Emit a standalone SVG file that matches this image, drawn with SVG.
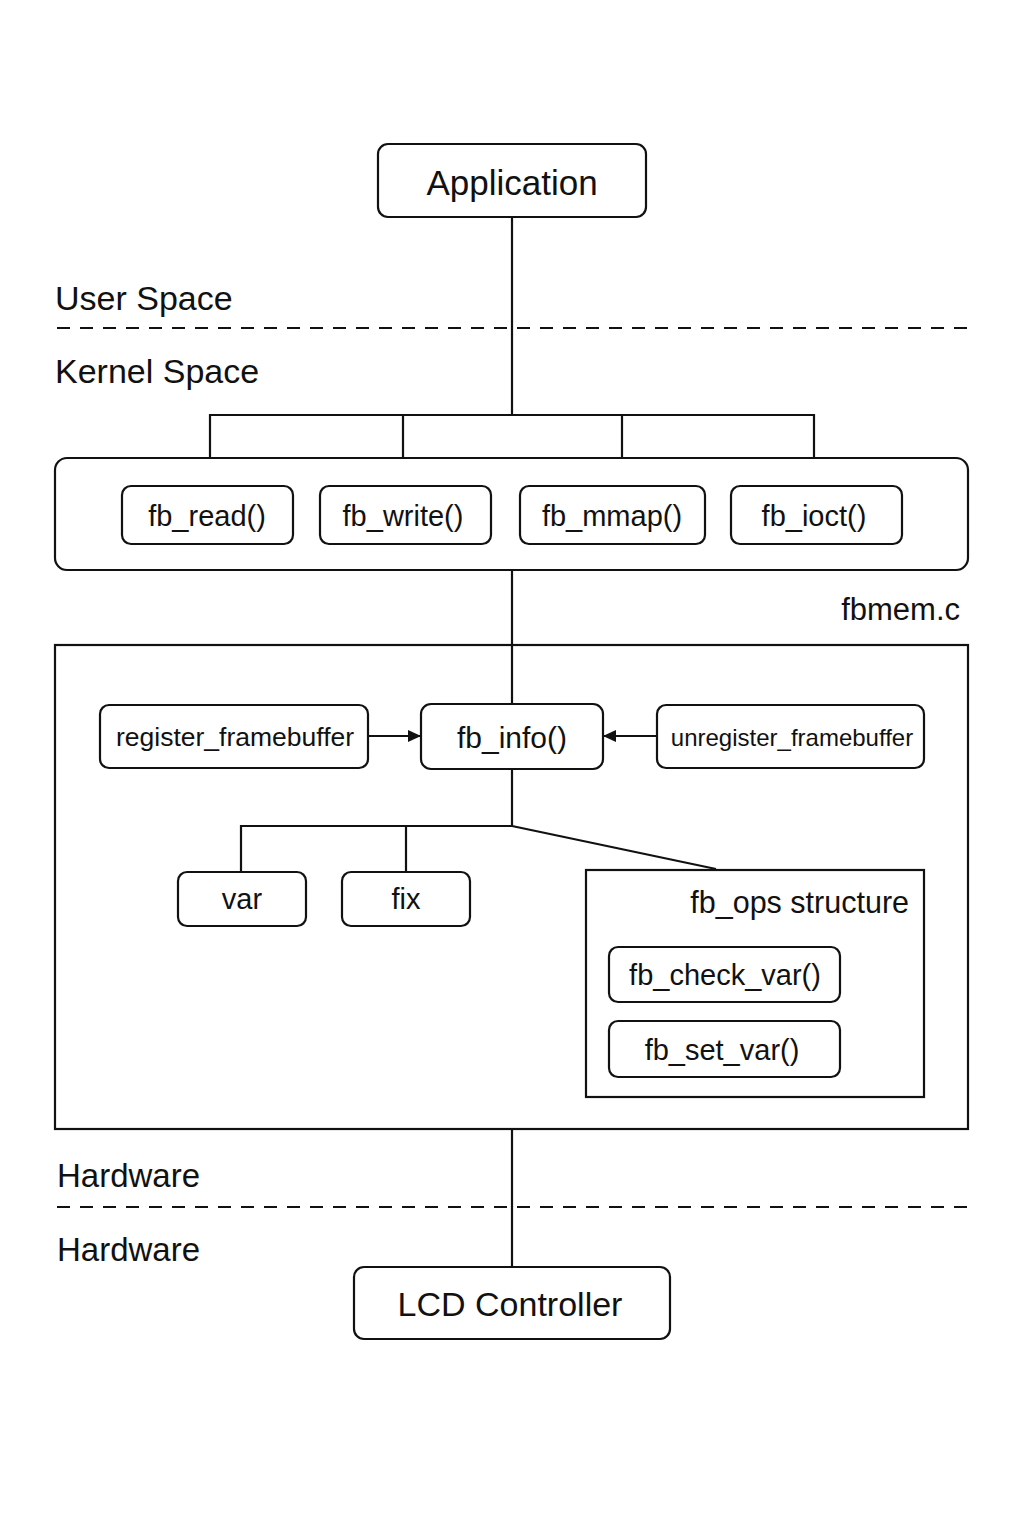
<svg xmlns="http://www.w3.org/2000/svg" width="1024" height="1536" viewBox="0 0 1024 1536">
<style>
.n{fill:#fff;stroke:#111;stroke-width:2.2}
.b{fill:none;stroke:#111;stroke-width:2.2}
.t{font-family:"Liberation Sans",Arial,sans-serif;fill:#111;text-anchor:middle;dominant-baseline:central}
.l{font-family:"Liberation Sans",Arial,sans-serif;fill:#111}
.c{fill:none;stroke:#111;stroke-width:2.2}
.d{fill:none;stroke:#111;stroke-width:2.2;stroke-dasharray:13 10}
</style>
<defs>
<marker id="ah" markerWidth="14" markerHeight="14" refX="13" refY="7" orient="auto" markerUnits="userSpaceOnUse" viewBox="0 0 14 14">
<path d="M0,1 L13,7 L0,13 z" fill="#111"/>
</marker>
</defs>
<rect width="1024" height="1536" fill="#fff"/>
<g id="labels">
<text class="l" x="55" y="310" font-size="34">User Space</text>
<text class="l" x="55" y="383" font-size="34">Kernel Space</text>
<text class="l" x="960" y="620" font-size="31" text-anchor="end">fbmem.c</text>
<text class="l" x="57" y="1187" font-size="33">Hardware</text>
<text class="l" x="57" y="1261" font-size="33">Hardware</text>
</g>
<g id="separators">
<line class="d" x1="57" y1="328" x2="970" y2="328"/>
<line class="d" x1="57" y1="1207" x2="970" y2="1207"/>
</g>
<g id="fileops"><rect class="b" x="55" y="458" width="913" height="112" rx="12"/></g>
<g id="fbmem"><rect class="b" x="55" y="645" width="913" height="484"/></g>
<g id="fb_ops"><rect class="b" x="586" y="870" width="338" height="227"/><text class="l" x="909" y="913" font-size="30.5" text-anchor="end">fb_ops structure</text></g>
<g id="connectors">
<line class="c" x1="512" y1="217" x2="512" y2="415"/>
<polyline class="c" points="210,458 210,415 814,415 814,458"/>
<line class="c" x1="403" y1="415" x2="403" y2="458"/>
<line class="c" x1="622" y1="415" x2="622" y2="458"/>
<line class="c" x1="512" y1="570" x2="512" y2="704"/>
<line class="c" x1="368" y1="736" x2="421" y2="736" marker-end="url(#ah)"/>
<line class="c" x1="657" y1="736" x2="603" y2="736" marker-end="url(#ah)"/>
<line class="c" x1="512" y1="769" x2="512" y2="826"/>
<polyline class="c" points="241,872 241,826 512,826"/>
<line class="c" x1="406" y1="826" x2="406" y2="872"/>
<line class="c" x1="512" y1="826" x2="716" y2="869"/>
<line class="c" x1="512" y1="1129" x2="512" y2="1267"/>
</g>
<g id="application"><rect class="n" x="378" y="144" width="268" height="73" rx="10"/><text class="t" x="512" y="182" font-size="35">Application</text></g>
<g id="fb_read"><rect class="n" x="122" y="486" width="171" height="58" rx="9"/><text class="t" x="207" y="516" font-size="29">fb_read()</text></g>
<g id="fb_write"><rect class="n" x="320" y="486" width="171" height="58" rx="9"/><text class="t" x="403" y="516" font-size="29">fb_write()</text></g>
<g id="fb_mmap"><rect class="n" x="520" y="486" width="185" height="58" rx="9"/><text class="t" x="612" y="516" font-size="29">fb_mmap()</text></g>
<g id="fb_ioct"><rect class="n" x="731" y="486" width="171" height="58" rx="9"/><text class="t" x="814" y="516" font-size="29">fb_ioct()</text></g>
<g id="register_framebuffer"><rect class="n" x="100" y="705" width="268" height="63" rx="9"/><text class="t" x="235" y="737" font-size="26.5">register_framebuffer</text></g>
<g id="fb_info"><rect class="n" x="421" y="704" width="182" height="65" rx="10"/><text class="t" x="512" y="737" font-size="30">fb_info()</text></g>
<g id="unregister_framebuffer"><rect class="n" x="657" y="705" width="267" height="63" rx="9"/><text class="t" x="792" y="737" font-size="24">unregister_framebuffer</text></g>
<g id="var"><rect class="n" x="178" y="872" width="128" height="54" rx="9"/><text class="t" x="242" y="899" font-size="29">var</text></g>
<g id="fix"><rect class="n" x="342" y="872" width="128" height="54" rx="9"/><text class="t" x="406" y="899" font-size="29">fix</text></g>
<g id="fb_check_var"><rect class="n" x="609" y="947" width="231" height="55" rx="9"/><text class="t" x="725" y="975" font-size="29">fb_check_var()</text></g>
<g id="fb_set_var"><rect class="n" x="609" y="1021" width="231" height="56" rx="9"/><text class="t" x="722" y="1050" font-size="29">fb_set_var()</text></g>
<g id="lcd"><rect class="n" x="354" y="1267" width="316" height="72" rx="10"/><text class="t" x="510" y="1304" font-size="34">LCD Controller</text></g>
</svg>
